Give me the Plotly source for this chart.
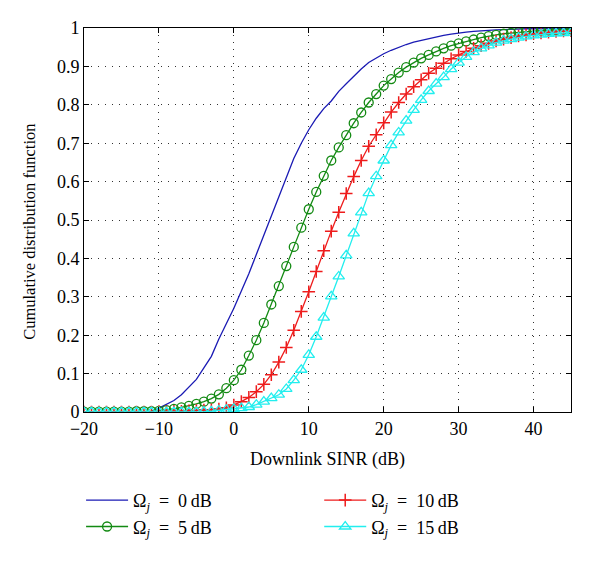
import plotly.graph_objects as go

sinr_db = list(range(-20, 46))

cdf_0db = [0, 0, 0, 0, 0, 0, 0, 0, 0, 0.001,
           0.01, 0.02, 0.03, 0.045, 0.065, 0.085, 0.115, 0.145, 0.19, 0.23,
           0.27, 0.315, 0.36, 0.41, 0.46, 0.51, 0.565, 0.615, 0.66, 0.70,
           0.735, 0.765, 0.79, 0.81, 0.835, 0.855, 0.875, 0.893, 0.91, 0.922,
           0.933, 0.942, 0.95, 0.957, 0.963, 0.968, 0.973, 0.977, 0.981, 0.984,
           0.987, 0.989, 0.991, 0.993, 0.994, 0.995, 0.996, 0.997, 0.997, 0.998,
           0.998, 0.998, 0.999, 0.999, 0.999, 0.999]

cdf_5db = [0.001, 0.001, 0.001, 0.001, 0.001, 0.001, 0.001, 0.002, 0.002, 0.002,
           0.003, 0.005, 0.008, 0.012, 0.016, 0.021, 0.027, 0.035, 0.046, 0.062,
           0.083, 0.11, 0.147, 0.187, 0.232, 0.28, 0.328, 0.38, 0.43, 0.48,
           0.528, 0.573, 0.615, 0.655, 0.689, 0.721, 0.752, 0.78, 0.806, 0.828,
           0.85, 0.867, 0.884, 0.898, 0.91, 0.921, 0.93, 0.939, 0.947, 0.954,
           0.96, 0.965, 0.97, 0.975, 0.979, 0.982, 0.985, 0.987, 0.989, 0.991,
           0.992, 0.993, 0.994, 0.995, 0.996, 0.997]

cdf_10db = [0, 0, 0, 0, 0, 0, 0, 0, 0, 0,
            0.001, 0.001, 0.002, 0.002, 0.003, 0.004, 0.005, 0.006, 0.008, 0.011,
            0.018, 0.027, 0.038, 0.053, 0.072, 0.097, 0.13, 0.168, 0.213, 0.262,
            0.313, 0.366, 0.42, 0.471, 0.52, 0.569, 0.613, 0.655, 0.692, 0.722,
            0.753, 0.781, 0.806, 0.828, 0.847, 0.865, 0.882, 0.895, 0.908, 0.92,
            0.93, 0.939, 0.947, 0.954, 0.96, 0.966, 0.971, 0.975, 0.979, 0.982,
            0.985, 0.987, 0.989, 0.991, 0.992, 0.993]

cdf_15db = [0, 0, 0, 0, 0, 0, 0, 0, 0, 0,
            0, 0, 0, 0, 0, 0, 0.001, 0.002, 0.004, 0.006,
            0.008, 0.01, 0.013, 0.019, 0.027, 0.036, 0.045, 0.06, 0.083, 0.11,
            0.149, 0.196, 0.246, 0.301, 0.353, 0.408, 0.465, 0.52, 0.57, 0.614,
            0.655, 0.695, 0.728, 0.759, 0.787, 0.813, 0.836, 0.855, 0.872, 0.893,
            0.91, 0.925, 0.937, 0.947, 0.955, 0.962, 0.967, 0.971, 0.975, 0.978,
            0.981, 0.983, 0.985, 0.986, 0.987, 0.988]

x_ticks = [-20, -10, 0, 10, 20, 30, 40]
y_ticks = [0, 0.1, 0.2, 0.3, 0.4, 0.5, 0.6, 0.7, 0.8, 0.9, 1]
y_tick_text = ["0", "0.1", "0.2", "0.3", "0.4", "0.5", "0.6", "0.7", "0.8", "0.9", "1"]

FONT = "Liberation Serif"

def lbl(v):
    return "Ω<sub><i>j</i></sub>\u00a0 = \u00a0" + v + "\u2009dB"

fig = go.Figure()
fig.add_trace(go.Scatter(x=sinr_db, y=cdf_0db, mode="lines", name=lbl("0"),
                         line=dict(color="#1a1ab4", width=1.3), legend="legend"))
fig.add_trace(go.Scatter(x=sinr_db, y=cdf_5db, mode="lines+markers", name=lbl("5"),
                         line=dict(color="#138a13", width=1.3),
                         marker=dict(symbol="circle-open", size=9, color="#138a13",
                                     line=dict(width=1.3)), legend="legend"))
fig.add_trace(go.Scatter(x=sinr_db, y=cdf_10db, mode="lines+markers", name=lbl("10"),
                         line=dict(color="#ee1c1c", width=1.3),
                         marker=dict(symbol="cross-thin-open", size=9, color="#ee1c1c",
                                     line=dict(width=1.5, color="#ee1c1c")), legend="legend2"))
fig.add_trace(go.Scatter(x=sinr_db, y=cdf_15db, mode="lines+markers", name=lbl("15"),
                         line=dict(color="#22eeee", width=1.3),
                         marker=dict(symbol="triangle-up-open", size=10, color="#22eeee",
                                     line=dict(width=1.3)), legend="legend2"))

axis_common = dict(
    showline=True, linecolor="black", linewidth=1, mirror="allticks",
    ticks="inside", ticklen=5, tickcolor="black",
    showgrid=True, gridcolor="#333333", gridwidth=1, griddash="1px,6px",
    zeroline=False,
    tickfont=dict(family=FONT, size=18, color="black"),
)

fig.update_xaxes(range=[-20, 45], tickvals=x_ticks,
                 title=dict(text="Downlink SINR (dB)", font=dict(family=FONT, size=18, color="black"),
                            standoff=14),
                 **axis_common)
fig.update_yaxes(range=[0, 1], tickvals=y_ticks, ticktext=y_tick_text, **axis_common)

fig.add_annotation(text="Cumulative distribution function", textangle=-90,
                   xref="paper", yref="paper", x=-0.111, y=0.469,
                   xanchor="center", yanchor="middle", showarrow=False,
                   font=dict(family=FONT, size=16.5, color="black"))

legend_common = dict(xanchor="left", yanchor="top",
                     orientation="v", bgcolor="rgba(0,0,0,0)",
                     font=dict(family=FONT, size=18, color="black"),
                     itemwidth=42, tracegroupgap=0)

fig.update_layout(
    width=600, height=563,
    margin=dict(l=76, r=37, t=20, b=159, autoexpand=False),
    paper_bgcolor="white", plot_bgcolor="white",
    showlegend=True,
    legend=dict(x=-0.006, y=-0.182, **legend_common),
    legend2=dict(x=0.483, y=-0.182, **legend_common),
)

fig.write_html("out.html")
